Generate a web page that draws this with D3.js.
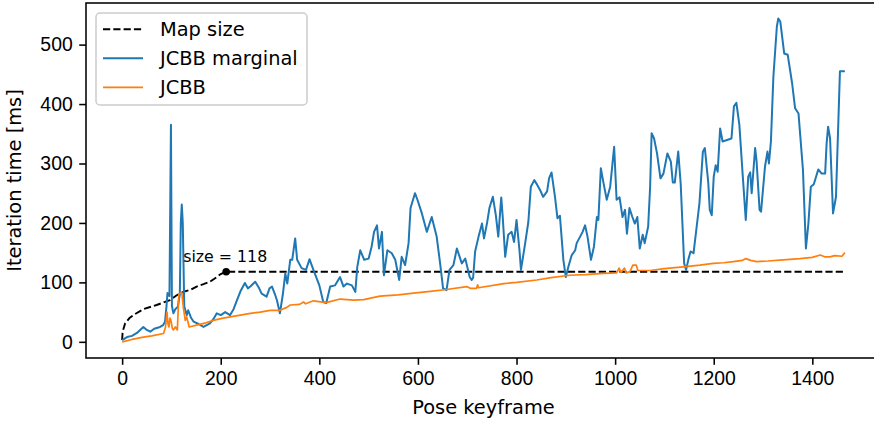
<!DOCTYPE html>
<html lang="en">
<head>
    <meta charset="UTF-8">
    <title>Iteration time per pose keyframe</title>
    <style>
        body { margin: 0; background: #fff; }
        svg { display: block; font-family: "DejaVu Sans", sans-serif; }
        .tick text { font-size: 19.4px; fill: #000; }
        .axis-label { font-size: 19.4px; fill: #000; }
        .legend text { font-size: 19.4px; fill: #000; }
        .note { font-size: 15.8px; fill: #000; }
    </style>
</head>
<body>
    <svg width="874" height="422"></svg>

    <script src="https://d3js.org/d3.v7.min.js"></script>
    <script>
        // Values
        const xTicks = [0, 200, 400, 600, 800, 1000, 1200, 1400];
        const yTicks = [0, 100, 200, 300, 400, 500];

        const mapX = [0, 1, 6, 15, 23, 43, 70, 97, 110, 124, 140, 151, 165, 178, 192, 200, 211, 1466];
        const mapY = [3, 17, 31, 40, 45, 55, 62, 70, 78, 84, 88, 93, 97, 101, 109, 114, 118, 118];

        const marginalX = [0, 10, 20, 30, 43, 50, 57, 65, 77, 83, 87, 90, 92, 96, 99, 101, 104, 108, 113, 117,
            119, 121, 123, 126, 131, 134, 140, 145, 155, 165, 178, 185, 192, 200, 209, 219, 226, 233, 240, 249, 255,
            260, 270, 278, 283, 293, 299, 304, 310, 314, 320, 326, 331, 335, 341, 345, 351, 355, 364, 373, 380,
            388, 400, 408, 414, 422, 432, 442, 449, 456, 466, 473, 477, 483, 491, 500, 506, 511, 517, 521, 527,
            531, 538, 547, 554, 562, 567, 574, 581, 585, 594, 599, 608, 618, 628, 638, 645, 651, 658, 664, 672,
            679, 689, 696, 705, 709, 712, 716, 723, 730, 734, 740, 745, 752, 758, 763, 769, 772, 777, 783, 790,
            795, 800, 806, 809, 817, 824, 829, 836, 842, 848, 854, 862, 866, 871, 878, 883, 888, 895, 900, 905,
            912, 919, 922, 929, 934, 939, 944, 951, 957, 963, 966, 971, 976, 983, 990, 998, 1003, 1009, 1015, 1020,
            1024, 1029, 1035, 1040, 1045, 1050, 1056, 1060, 1067, 1071, 1074, 1079, 1085, 1092, 1098, 1106, 1113, 1117, 1121, 1128,
            1133, 1140, 1144, 1149, 1153, 1159, 1171, 1178, 1182, 1189, 1192, 1196, 1200, 1204, 1208, 1213, 1218, 1236, 1241, 1246,
            1252, 1259, 1265, 1270, 1274, 1277, 1284, 1287, 1293, 1296, 1304, 1309, 1312, 1316, 1321, 1328, 1331, 1335, 1343, 1350,
            1359, 1365, 1372, 1381, 1387, 1392, 1397, 1403, 1412, 1419, 1426, 1429, 1432, 1436, 1442, 1448, 1456, 1466];
        const marginalY = [3, 8, 10, 15, 25, 20, 17, 22, 25, 28, 34, 60, 82, 77, 365, 60, 48, 55, 59, 80,
            200, 231, 200, 60, 45, 53, 40, 34, 30, 25, 31, 38, 48, 45, 50, 45, 55, 70, 85, 99, 90,
            93, 101, 90, 81, 76, 90, 93, 80, 70, 48, 80, 115, 98, 138, 138, 174, 138, 124, 121, 139,
            121, 95, 67, 65, 93, 95, 109, 93, 98, 95, 84, 126, 154, 138, 140, 160, 185, 196, 157, 185,
            112, 154, 149, 138, 104, 143, 129, 166, 225, 250, 239, 216, 185, 210, 177, 132, 90, 87, 121, 129,
            157, 132, 140, 109, 104, 108, 152, 177, 199, 174, 199, 225, 244, 213, 177, 243, 210, 143, 180, 185,
            168, 205, 154, 121, 163, 202, 261, 272, 264, 255, 244, 253, 275, 285, 244, 208, 212, 138, 109, 126,
            146, 154, 166, 177, 185, 196, 177, 138, 160, 210, 205, 292, 269, 239, 261, 328, 239, 243, 210, 222,
            182, 225, 210, 199, 210, 157, 180, 166, 194, 261, 351, 342, 317, 275, 283, 317, 303, 268, 268, 320,
            266, 132, 121, 140, 152, 149, 233, 320, 326, 267, 222, 213, 278, 297, 286, 359, 337, 342, 396, 402,
            365, 278, 205, 278, 285, 250, 326, 303, 222, 219, 295, 320, 300, 337, 446, 530, 544, 539, 485, 483,
            435, 393, 384, 289, 157, 199, 261, 265, 290, 283, 283, 334, 362, 342, 216, 244, 455, 455];

        const jcbbX = [0, 20, 43, 60, 84, 88, 91, 93, 95, 97, 99, 102, 104, 108, 112, 115, 121, 124, 128, 131,
            136, 151, 170, 185, 200, 219, 240, 260, 280, 300, 320, 334, 341, 360, 368, 372, 388, 414, 442, 470,
            490, 523, 560, 591, 625, 658, 699, 706, 719, 721, 723, 774, 800, 841, 870, 908, 940, 976, 1003, 1008,
            1012, 1019, 1022, 1030, 1036, 1043, 1046, 1071, 1100, 1138, 1172, 1199, 1220, 1240, 1258, 1265, 1275, 1287, 1310, 1341,
            1375, 1400, 1416, 1425, 1436, 1445, 1460, 1466];
        const jcbbY = [0, 4, 8, 10, 14, 25, 50, 30, 25, 40, 36, 22, 20, 25, 20, 81, 83, 59, 36, 42,
            25, 28, 32, 36, 39, 42, 45, 48, 50, 53, 53, 58, 62, 63, 67, 64, 69, 66, 72, 70,
            71, 77, 79, 82, 85, 88, 93, 90, 90, 96, 91, 98, 100, 104, 108, 112, 113, 115, 116, 124,
            117, 124, 116, 118, 129, 129, 120, 120, 123, 126, 129, 132, 133, 135, 137, 140, 137, 135, 136, 138,
            140, 142, 146, 143, 143, 145, 144, 150];

        const markX = 211, markY = 118;

        const svg = d3.select("svg");
        const plotLeft = 86, plotRight = 881, plotTop = 3, plotBottom = 358;

        const x = d3.scaleLinear().domain([-73.3, 1539.3]).range([plotLeft, plotRight]);
        const y = d3.scaleLinear().domain([-27.2, 570]).range([plotBottom, plotTop]);

        svg.append("defs").append("clipPath").attr("id", "plot-clip")
            .append("rect")
            .attr("x", plotLeft).attr("y", plotTop)
            .attr("width", plotRight - plotLeft).attr("height", plotBottom - plotTop);

        const zip = (xs, ys) => xs.map((v, i) => [v, ys[i]]);
        const line = d3.line().x(d => x(d[0])).y(d => y(d[1]));

        const plot = svg.append("g").attr("clip-path", "url(#plot-clip)");

        plot.append("path")
            .datum(zip(mapX, mapY))
            .attr("fill", "none")
            .attr("stroke", "#000")
            .attr("stroke-width", 1.9)
            .attr("stroke-dasharray", "7.2,3.1")
            .attr("d", line);

        plot.append("path")
            .datum(zip(marginalX, marginalY))
            .attr("fill", "none")
            .attr("stroke", "#1f77b4")
            .attr("stroke-width", 2)
            .attr("stroke-linejoin", "round")
            .attr("d", line);

        plot.append("path")
            .datum(zip(jcbbX, jcbbY))
            .attr("fill", "none")
            .attr("stroke", "#ff7f0e")
            .attr("stroke-width", 1.7)
            .attr("stroke-linejoin", "round")
            .attr("d", line);

        // annotation on the map size curve
        svg.append("circle")
            .attr("cx", x(markX))
            .attr("cy", y(markY))
            .attr("r", 3.8)
            .attr("fill", "#000");

        svg.append("text")
            .attr("class", "note")
            .attr("x", x(markX) - 43)
            .attr("y", y(markY) - 10)
            .text(`size = ${markY}`);

        // axes
        const xAxis = svg.append("g")
            .attr("transform", `translate(0,${plotBottom})`)
            .call(d3.axisBottom(x).tickValues(xTicks).tickFormat(d3.format("d"))
                .tickSize(6.8).tickPadding(6).tickSizeOuter(0));
        const yAxis = svg.append("g")
            .attr("transform", `translate(${plotLeft},0)`)
            .call(d3.axisLeft(y).tickValues(yTicks).tickFormat(d3.format("d"))
                .tickSize(6.8).tickPadding(6.5).tickSizeOuter(0));

        [xAxis, yAxis].forEach(g => {
            g.select(".domain").remove();
            g.selectAll(".tick line").attr("stroke", "#000").attr("stroke-width", 1.55);
            g.selectAll(".tick text").attr("font-family", null).attr("font-size", null);
        });
        xAxis.selectAll(".tick text").attr("dy", "0.74em");

        // frame
        svg.append("rect")
            .attr("x", plotLeft).attr("y", plotTop)
            .attr("width", plotRight - plotLeft).attr("height", plotBottom - plotTop)
            .attr("fill", "none")
            .attr("stroke", "#000")
            .attr("stroke-width", 1.55);

        svg.append("text")
            .attr("class", "axis-label")
            .attr("x", (plotLeft + plotRight) / 2)
            .attr("y", 414)
            .attr("text-anchor", "middle")
            .text("Pose keyframe");

        svg.append("text")
            .attr("class", "axis-label")
            .attr("transform", `translate(21,${(plotTop + plotBottom) / 2}) rotate(-90)`)
            .attr("text-anchor", "middle")
            .text("Iteration time [ms]");

        // legend
        const legendItems = [
            { label: "Map size", color: "#000", dash: "7.2,3.1", width: 1.9 },
            { label: "JCBB marginal", color: "#1f77b4", dash: null, width: 2 },
            { label: "JCBB", color: "#ff7f0e", dash: null, width: 1.7 }
        ];

        const legend = svg.append("g").attr("class", "legend");
        legend.append("rect")
            .attr("x", 96).attr("y", 13)
            .attr("width", 211).attr("height", 92)
            .attr("rx", 4)
            .attr("fill", "#fff").attr("fill-opacity", 0.8)
            .attr("stroke", "#cccccc").attr("stroke-width", 1.5);

        const row = legend.selectAll("g.row")
            .data(legendItems)
            .enter().append("g")
            .attr("class", "row")
            .attr("transform", (d, i) => `translate(0,${29.3 + i * 29})`);

        row.append("line")
            .attr("x1", 103).attr("x2", 143)
            .attr("stroke", d => d.color)
            .attr("stroke-width", d => d.width)
            .attr("stroke-dasharray", d => d.dash);

        row.append("text")
            .attr("x", 160)
            .attr("y", 6.8)
            .text(d => d.label);
    </script>
</body>
</html>
